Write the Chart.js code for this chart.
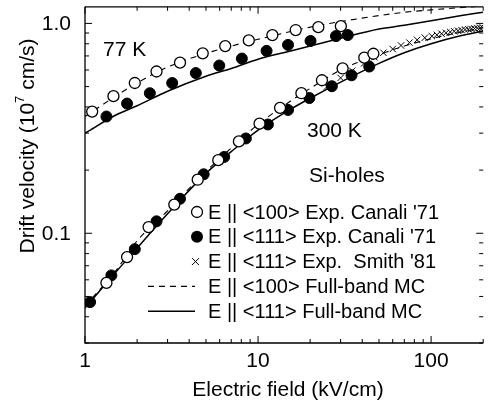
<!DOCTYPE html>
<html>
<head>
<meta charset="utf-8">
<script src="https://cdn.jsdelivr.net/npm/chart.js@4.4.1/dist/chart.umd.min.js"></script>
<style>
  html, body { margin: 0; padding: 0; background: #fff; }
  #wrap { width: 490px; height: 406px; }
</style>
</head>
<body>
<div id="wrap"><canvas id="driftChart" width="490" height="406"></canvas></div>
<script>
// Si holes: drift velocity (1e7 cm/s) vs electric field (kV/cm)
// 77 K, E || <100>, Canali '71 (open circles)
const field77Open = [1.1, 1.46, 1.94, 2.59, 3.54, 4.79, 6.46, 8.84, 12.1, 16.5, 22.3, 30.1];
const vel77Open   = [0.38, 0.45, 0.52, 0.59, 0.65, 0.72, 0.78, 0.83, 0.88, 0.93, 0.96, 0.97];
// 77 K, E || <111>, Canali '71 (filled circles)
const field77Fill = [1.33, 1.75, 2.37, 3.19, 4.37, 5.97, 8.06, 11.2, 14.9, 20.1, 28.2, 33.0];
const vel77Fill   = [0.36, 0.415, 0.465, 0.52, 0.58, 0.63, 0.68, 0.74, 0.79, 0.825, 0.87, 0.88];
// 300 K, E || <100>, Canali '71
const field300Open = [1.33, 1.75, 2.33, 3.28, 4.48, 5.89, 7.75, 10.2, 13.4, 17.8, 23.4, 30.8, 41.1, 46.4];
const vel300Open   = [0.058, 0.077, 0.107, 0.137, 0.18, 0.223, 0.274, 0.333, 0.396, 0.465, 0.536, 0.61, 0.687, 0.717];
// 300 K, E || <111>, Canali '71
const field300Fill = [1.07, 1.42, 1.94, 2.59, 3.54, 4.85, 6.37, 8.5, 11.4, 14.9, 19.8, 26.7, 34.7, 43.9];
const vel300Fill   = [0.047, 0.063, 0.084, 0.114, 0.146, 0.191, 0.231, 0.283, 0.33, 0.387, 0.441, 0.502, 0.566, 0.623];
// 300 K, E || <111>, Smith '81 (crosses)
const fieldSmith = [25, 30, 35, 41, 47, 53, 60, 67, 75, 83, 92, 101, 108, 115, 122, 129, 136, 143, 150, 157, 164, 171, 178, 185, 192, 199];
const velSmith   = [0.5, 0.55, 0.595, 0.645, 0.69, 0.725, 0.755, 0.785, 0.81, 0.835, 0.855, 0.87, 0.882, 0.893, 0.902, 0.91, 0.917, 0.923, 0.929, 0.934, 0.938, 0.942, 0.946, 0.95, 0.953, 0.956];
// Full-band Monte Carlo curves
const mcField  = [1, 1.5, 2, 3, 5, 7, 10, 15, 20, 30, 50, 70, 100, 150, 200];
const mc77_100 = [0.36, 0.45, 0.52, 0.62, 0.72, 0.78, 0.84, 0.91, 0.96, 1.02, 1.09, 1.13, 1.16, 1.19, 1.21];
const mc77_111 = [0.30, 0.365, 0.405, 0.475, 0.56, 0.61, 0.675, 0.735, 0.78, 0.85, 0.94, 0.98, 1.03, 1.09, 1.13];
const mc300_100 = [0.045, 0.066, 0.092, 0.128, 0.197, 0.255, 0.33, 0.42, 0.49, 0.60, 0.71, 0.78, 0.845, 0.91, 0.955];
const mc300_111 = [0.044, 0.065, 0.085, 0.124, 0.193, 0.245, 0.31, 0.385, 0.44, 0.525, 0.645, 0.725, 0.80, 0.875, 0.92];

const xTickValues = [1, 10, 100];
const xTickLabels = ['1', '10', '100'];
const yTickValues = [0.1, 1];
const yTickLabels = ['0.1', '1.0'];
const legendRows = [
  { mark: 'open',   text: "E || <100> Exp. Canali '71" },
  { mark: 'filled', text: "E || <111> Exp. Canali '71" },
  { mark: 'cross',  text: "E || <111> Exp.  Smith '81" },
  { mark: 'dash',   text: 'E || <100> Full-band MC' },
  { mark: 'solid',  text: 'E || <111> Full-band MC' }
];

const FONT = '"Liberation Sans", Arial, Helvetica, sans-serif';
const pts = (xs, ys) => xs.map((x, i) => ({ x: x, y: ys[i] }));

function scatterSet(xs, ys, style) {
  return Object.assign({
    data: pts(xs, ys),
    showLine: false,
    borderColor: '#000',
    order: 0
  }, style);
}

function curveSet(ys, dash) {
  return {
    data: pts(mcField, ys),
    showLine: true,
    borderColor: '#000',
    borderWidth: dash ? 1.1 : 1.5,
    borderDash: dash ? [6, 5] : [],
    pointRadius: 0,
    cubicInterpolationMode: 'monotone',
    fill: false,
    order: 1
  };
}

const openStyle = { pointStyle: 'circle', pointRadius: 5.5, pointBorderWidth: 1.3, pointBackgroundColor: '#fff', pointBorderColor: '#000' };
const fillStyle = { pointStyle: 'circle', pointRadius: 5.5, pointBorderWidth: 1, pointBackgroundColor: '#000', pointBorderColor: '#000' };
const crossStyle = { pointStyle: 'crossRot', pointRadius: 4.5, pointBorderWidth: 1, pointBorderColor: '#000' };

// frame, inward ticks, tick labels, titles and legend
const decorPlugin = {
  id: 'decor',
  afterDraw(chart) {
    const { ctx, chartArea: a, scales } = chart;
    const xs = scales.x, ys = scales.y;
    ctx.save();
    ctx.strokeStyle = '#000';
    ctx.lineWidth = 1.3;
    ctx.beginPath();
    ctx.moveTo(a.left, a.top); ctx.lineTo(a.left, a.bottom); ctx.lineTo(a.right, a.bottom);
    ctx.moveTo(a.left, a.top); ctx.lineTo(a.right, a.top);
    ctx.stroke();

    ctx.lineWidth = 1;
    ctx.beginPath();
    for (let d = 0; d <= 2; d++) {
      for (let m = 1; m <= 9; m++) {
        const v = m * Math.pow(10, d);
        if (v < 1 || v > 200) continue;
        const px = xs.getPixelForValue(v);
        const len = m === 1 ? 7 : 4;
        ctx.moveTo(px, a.bottom); ctx.lineTo(px, a.bottom - len);
        ctx.moveTo(px, a.top); ctx.lineTo(px, a.top + len);
      }
    }
    for (let d = -2; d <= 0; d++) {
      for (let m = 1; m <= 9; m++) {
        const v = m * Math.pow(10, d);
        if (v < 0.03 || v > 1.2) continue;
        const py = ys.getPixelForValue(v);
        const len = m === 1 ? 7 : 4;
        ctx.moveTo(a.left, py); ctx.lineTo(a.left + len, py);
        ctx.moveTo(a.right, py); ctx.lineTo(a.right - len, py);
      }
    }
    ctx.stroke();

    ctx.fillStyle = '#000';
    ctx.textBaseline = 'middle';
    ctx.font = '21px ' + FONT;
    ctx.textAlign = 'center';
    xTickValues.forEach((v, i) => ctx.fillText(xTickLabels[i], xs.getPixelForValue(v), a.bottom + 18));
    ctx.textAlign = 'right';
    yTickValues.forEach((v, i) => ctx.fillText(yTickLabels[i], 71, ys.getPixelForValue(v) + 1));

    // x title
    ctx.textAlign = 'center';
    ctx.fillText('Electric field (kV/cm)', 288, 390);

    // y title with superscript
    const t1 = 'Drift velocity (10', t2 = '7', t3 = ' cm/s)';
    ctx.font = '21px ' + FONT;
    const w1 = ctx.measureText(t1).width, w3 = ctx.measureText(t3).width;
    ctx.font = '13px ' + FONT;
    const w2 = ctx.measureText(t2).width;
    const total = w1 + w2 + w3;
    ctx.save();
    ctx.translate(28, 146);
    ctx.rotate(-Math.PI / 2);
    ctx.textAlign = 'left';
    const sx = -total / 2;
    ctx.font = '21px ' + FONT;
    ctx.fillText(t1, sx, 0);
    ctx.font = '13px ' + FONT;
    ctx.fillText(t2, sx + w1, -8);
    ctx.font = '21px ' + FONT;
    ctx.fillText(t3, sx + w1 + w2, 0);
    ctx.restore();

    // annotations
    ctx.font = '21px ' + FONT;
    ctx.textAlign = 'left';
    ctx.fillText('77 K', 103, 50);
    ctx.fillText('300 K', 307, 131);
    ctx.fillText('Si-holes', 309, 176);

    // legend
    ctx.font = '20px ' + FONT;
    legendRows.forEach((row, i) => {
      const cy = 212 + i * 24.8;
      ctx.beginPath();
      if (row.mark === 'open') {
        ctx.lineWidth = 1.3;
        ctx.arc(197, cy, 5.5, 0, Math.PI * 2);
        ctx.stroke();
      } else if (row.mark === 'filled') {
        ctx.arc(197, cy, 6, 0, Math.PI * 2);
        ctx.fill();
      } else if (row.mark === 'cross') {
        ctx.lineWidth = 1;
        ctx.moveTo(192, cy - 3.5); ctx.lineTo(199, cy + 3.5);
        ctx.moveTo(199, cy - 3.5); ctx.lineTo(192, cy + 3.5);
        ctx.stroke();
      } else {
        ctx.lineWidth = row.mark === 'dash' ? 1.1 : 1.5;
        ctx.setLineDash(row.mark === 'dash' ? [6, 5] : []);
        ctx.moveTo(148, cy); ctx.lineTo(195, cy);
        ctx.stroke();
        ctx.setLineDash([]);
      }
      ctx.fillText(row.text, 208, cy + 1);
    });
    ctx.restore();
  }
};

new Chart(document.getElementById('driftChart'), {
  type: 'line',
  data: {
    datasets: [
      scatterSet(field77Open, vel77Open, openStyle),
      scatterSet(field77Fill, vel77Fill, fillStyle),
      scatterSet(field300Open, vel300Open, openStyle),
      scatterSet(field300Fill, vel300Fill, fillStyle),
      scatterSet(fieldSmith, velSmith, crossStyle),
      curveSet(mc77_100, true),
      curveSet(mc77_111, false),
      curveSet(mc300_100, true),
      curveSet(mc300_111, false)
    ]
  },
  options: {
    responsive: false,
    animation: false,
    devicePixelRatio: 1,
    layout: { padding: { top: 4, right: 0, left: 0, bottom: 0 } },
    plugins: { legend: { display: false }, tooltip: { enabled: false } },
    scales: {
      x: {
        type: 'logarithmic',
        min: 1, max: 200,
        grid: { display: false, drawTicks: false },
        border: { display: false },
        ticks: { display: false },
        afterFit: s => { s.height = 63; }
      },
      y: {
        type: 'logarithmic',
        min: 0.03, max: 1.2,
        grid: { display: false, drawTicks: false },
        border: { display: false },
        ticks: { display: false },
        afterFit: s => { s.width = 85; }
      }
    }
  },
  plugins: [decorPlugin]
});
</script>
</body>
</html>
